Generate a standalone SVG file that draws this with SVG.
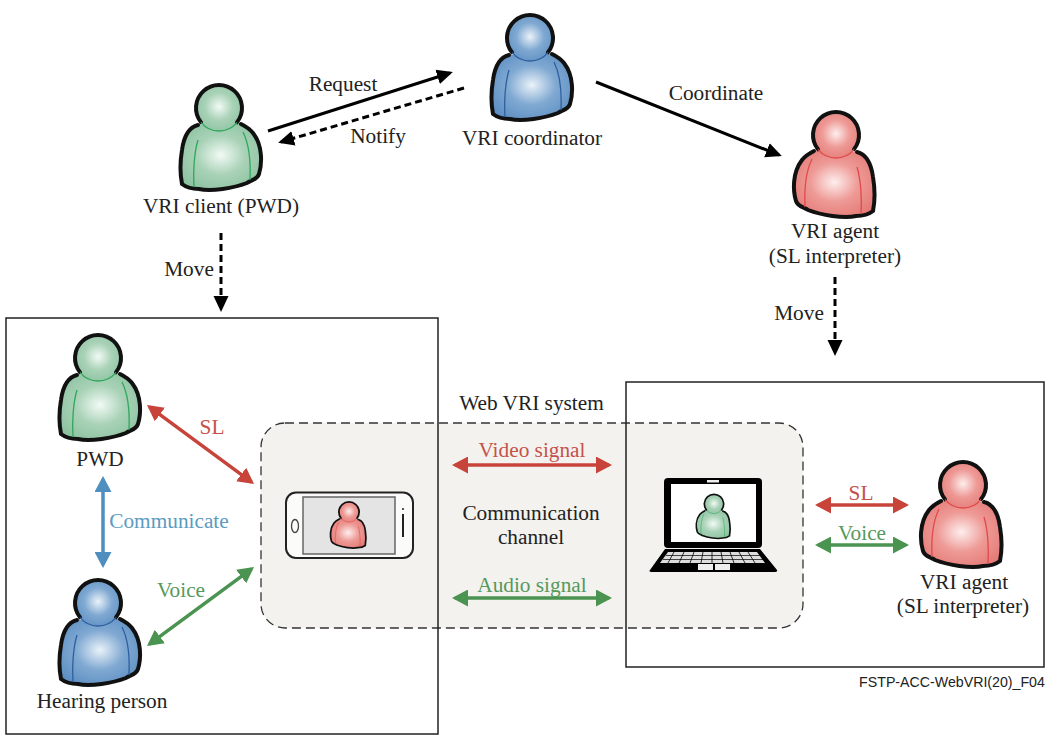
<svg xmlns="http://www.w3.org/2000/svg" width="1055" height="740" viewBox="0 0 1055 740">
<style>
text{font-family:"Liberation Serif","Times New Roman",serif;font-size:21.3px;fill:#222;text-anchor:middle}
.red{fill:#c4524b}.blue{fill:#5c9ac0}.grn{fill:#55995c}
.box{fill:none;stroke:#222;stroke-width:1.5}
.k{stroke:#000;stroke-width:3;fill:none}
.kd{stroke:#000;stroke-width:3;fill:none;stroke-dasharray:7 4}
.r{stroke:#c8443a;stroke-width:3.5;fill:none}
.b{stroke:#4e8fbf;stroke-width:3.5;fill:none}
.g{stroke:#4a9350;stroke-width:3.5;fill:none}
.o{stroke:#111;stroke-width:4;stroke-linejoin:round;stroke-linecap:round}
.ol{fill:none;stroke:#111;stroke-width:4;stroke-linecap:round}
.ln{fill:none;stroke:currentColor;stroke-width:1.3}
</style>
<defs>
<radialGradient id="gg" cx=".5" cy=".47" r=".6"><stop offset="0" stop-color="#f2faf5"/><stop offset=".5" stop-color="#a9d2b7"/><stop offset="1" stop-color="#8cc2a0"/></radialGradient>
<radialGradient id="gb" cx=".5" cy=".47" r=".6"><stop offset="0" stop-color="#eaf2f9"/><stop offset=".5" stop-color="#80a9d2"/><stop offset="1" stop-color="#5d8fc2"/></radialGradient>
<radialGradient id="gr" cx=".5" cy=".47" r=".6"><stop offset="0" stop-color="#fdeeed"/><stop offset=".5" stop-color="#ee9a96"/><stop offset="1" stop-color="#e47a76"/></radialGradient>
<g id="person">
<path class="o" d="M-21,17C-29,19 -35,27 -37,42C-39,54 -39,66 -37,76C-32,80 -26,81 -20,81C-8,84 15,80 28,75C32,72 38,72 40,66C43,56 44,38 34,25C30,20 26,18 22,16"/>
<path class="ln" d="M-21,32C-25,45 -26,65 -25,79M24,24C30,36 32,50 31,72"/>
<circle cx="0" cy="0" r="23" stroke="none"/>
<path class="ol" d="M-18,14.3A23,23 0 1 1 18,14.3"/>
<path class="ln" d="M-18,14.3A23,23 0 0 0 18,14.3"/>
</g>
<marker id="ak" markerUnits="userSpaceOnUse" markerWidth="16" markerHeight="17" refX="13" refY="8.5" orient="auto-start-reverse"><path d="M0,1L16,8.5L0,16Z" fill="#000"/></marker>
<marker id="ar" markerUnits="userSpaceOnUse" markerWidth="16" markerHeight="17" refX="13" refY="8.5" orient="auto-start-reverse"><path d="M0,0L16,8.5L0,17Z" fill="#c8443a"/></marker>
<marker id="ab" markerUnits="userSpaceOnUse" markerWidth="16" markerHeight="17" refX="13" refY="8.5" orient="auto-start-reverse"><path d="M0,0L16,8.5L0,17Z" fill="#4e8fbf"/></marker>
<marker id="ag" markerUnits="userSpaceOnUse" markerWidth="16" markerHeight="17" refX="13" refY="8.5" orient="auto-start-reverse"><path d="M0,0L16,8.5L0,17Z" fill="#4a9350"/></marker>
</defs>
<rect width="1055" height="740" fill="#fff"/>
<g id="channel"><rect x="261" y="423" width="542" height="205" rx="24" fill="#f3f2ee" stroke="#333" stroke-width="1.3" stroke-dasharray="9 5"/></g>
<g id="frames">
<rect class="box" x="6" y="318" width="432" height="416"/>
<rect class="box" x="626" y="382" width="418" height="285"/>
</g>
<g id="connectors">
<path class="k" marker-end="url(#ak)" d="M268,131L450,73"/>
<path class="kd" marker-end="url(#ak)" d="M464,88L281,142"/>
<path class="k" marker-end="url(#ak)" d="M596,82L779,155"/>
<path class="kd" marker-end="url(#ak)" d="M221,233V309"/>
<path class="kd" marker-end="url(#ak)" d="M835,277V353"/>
<path class="r" marker-start="url(#ar)" marker-end="url(#ar)" d="M149.4,406.8L251.6,482.2"/>
<path class="b" marker-start="url(#ab)" marker-end="url(#ab)" d="M103,479V565"/>
<path class="g" marker-start="url(#ag)" marker-end="url(#ag)" d="M149.4,644.2L251.6,568.8"/>
<path class="r" marker-start="url(#ar)" marker-end="url(#ar)" d="M455,465H609"/>
<path class="g" marker-start="url(#ag)" marker-end="url(#ag)" d="M455,598H609"/>
<path class="r" marker-start="url(#ar)" marker-end="url(#ar)" d="M818,505H906"/>
<path class="g" marker-start="url(#ag)" marker-end="url(#ag)" d="M818,545H906"/>
</g>
<g id="vri-client"><use href="#person" transform="translate(219,108)" fill="url(#gg)" color="#2fa75c"/><text x="221" y="213">VRI client (PWD)</text></g>
<g id="vri-coordinator"><use href="#person" transform="translate(530,38)" fill="url(#gb)" color="#2f5f9f"/><text x="532" y="145">VRI coordinator</text></g>
<g id="vri-agent-top"><use href="#person" transform="translate(836,135) scale(-1,1)" fill="url(#gr)" color="#e04a4a"/><text x="835" y="238">VRI agent</text><text x="835" y="263">(SL interpreter)</text></g>
<g id="pwd"><use href="#person" transform="translate(98,358)" fill="url(#gg)" color="#2fa75c"/><text x="100" y="466">PWD</text></g>
<g id="hearing-person"><use href="#person" transform="translate(98,603)" fill="url(#gb)" color="#2f5f9f"/><text x="102" y="708">Hearing person</text></g>
<g id="vri-agent-right"><use href="#person" transform="translate(963,485) scale(-1,1)" fill="url(#gr)" color="#e04a4a"/><text x="964" y="589">VRI agent</text><text x="963" y="613">(SL interpreter)</text></g>
<g id="phone">
<rect x="286" y="492.500" width="127" height="65.500" rx="10" fill="#fbfbfa" stroke="#222" stroke-width="2"/>
<rect x="303" y="497" width="92" height="57" fill="#e4e4e4" stroke="#666" stroke-width="1.5"/>
<ellipse cx="295" cy="526" rx="3.500" ry="6.500" fill="none" stroke="#444" stroke-width="1.300"/>
<path d="M403,514V537" stroke="#222" stroke-width="2"/><circle cx="403" cy="509" r="1" fill="#222"/>
<use href="#person" transform="translate(349,512) scale(-.44,.44)" fill="url(#gr)" color="#e04a4a"/>
</g>
<g id="laptop">
<rect x="664" y="478" width="98" height="70" rx="4" fill="#000"/>
<rect x="671" y="484" width="85" height="58" fill="#fff"/>
<rect x="707" y="480" width="12" height="2.500" fill="#eee"/>
<path d="M665,549H760L777,570Q778,572 774,572H653Q648,572 650,570Z" fill="#000"/>
<path d="M668,552H757L765,563H660Z" fill="#ddd"/>
<path d="M666,555.500H760M663,559.500H763" stroke="#000" stroke-width=".7"/>
<path d="M674,552L668,563M684,552L679,563M694,552L690,563M703,552L701,563M712,552L712,563M721,552L723,563M730,552L734,563M739,552L745,563M748,552L755,563" stroke="#000" stroke-width=".8"/>
<rect x="698" y="564" width="15" height="6" fill="#eee"/><rect x="715" y="564" width="15" height="6" fill="#eee"/>
<use href="#person" transform="translate(714,504) scale(-.42,.42)" fill="url(#gg)" color="#2fa75c"/>
</g>
<g id="labels">
<text x="343" y="91">Request</text>
<text x="378" y="143">Notify</text>
<text x="716" y="100">Coordinate</text>
<text x="189" y="276">Move</text>
<text x="799" y="320">Move</text>
<text x="212" y="434" class="red">SL</text>
<text x="169" y="528" class="blue">Communicate</text>
<text x="181" y="597" class="grn">Voice</text>
<text x="531.500" y="410">Web VRI system</text>
<text x="532" y="457" class="red">Video signal</text>
<text x="531" y="520">Communication</text>
<text x="531" y="544">channel</text>
<text x="532" y="592" class="grn">Audio signal</text>
<text x="861" y="500" class="red">SL</text>
<text x="862" y="540" class="grn">Voice</text>
<text x="952" y="687" style="font-family:'Liberation Sans',Arial,sans-serif;font-size:14.2px">FSTP-ACC-WebVRI(20)_F04</text>
</g>
</svg>
